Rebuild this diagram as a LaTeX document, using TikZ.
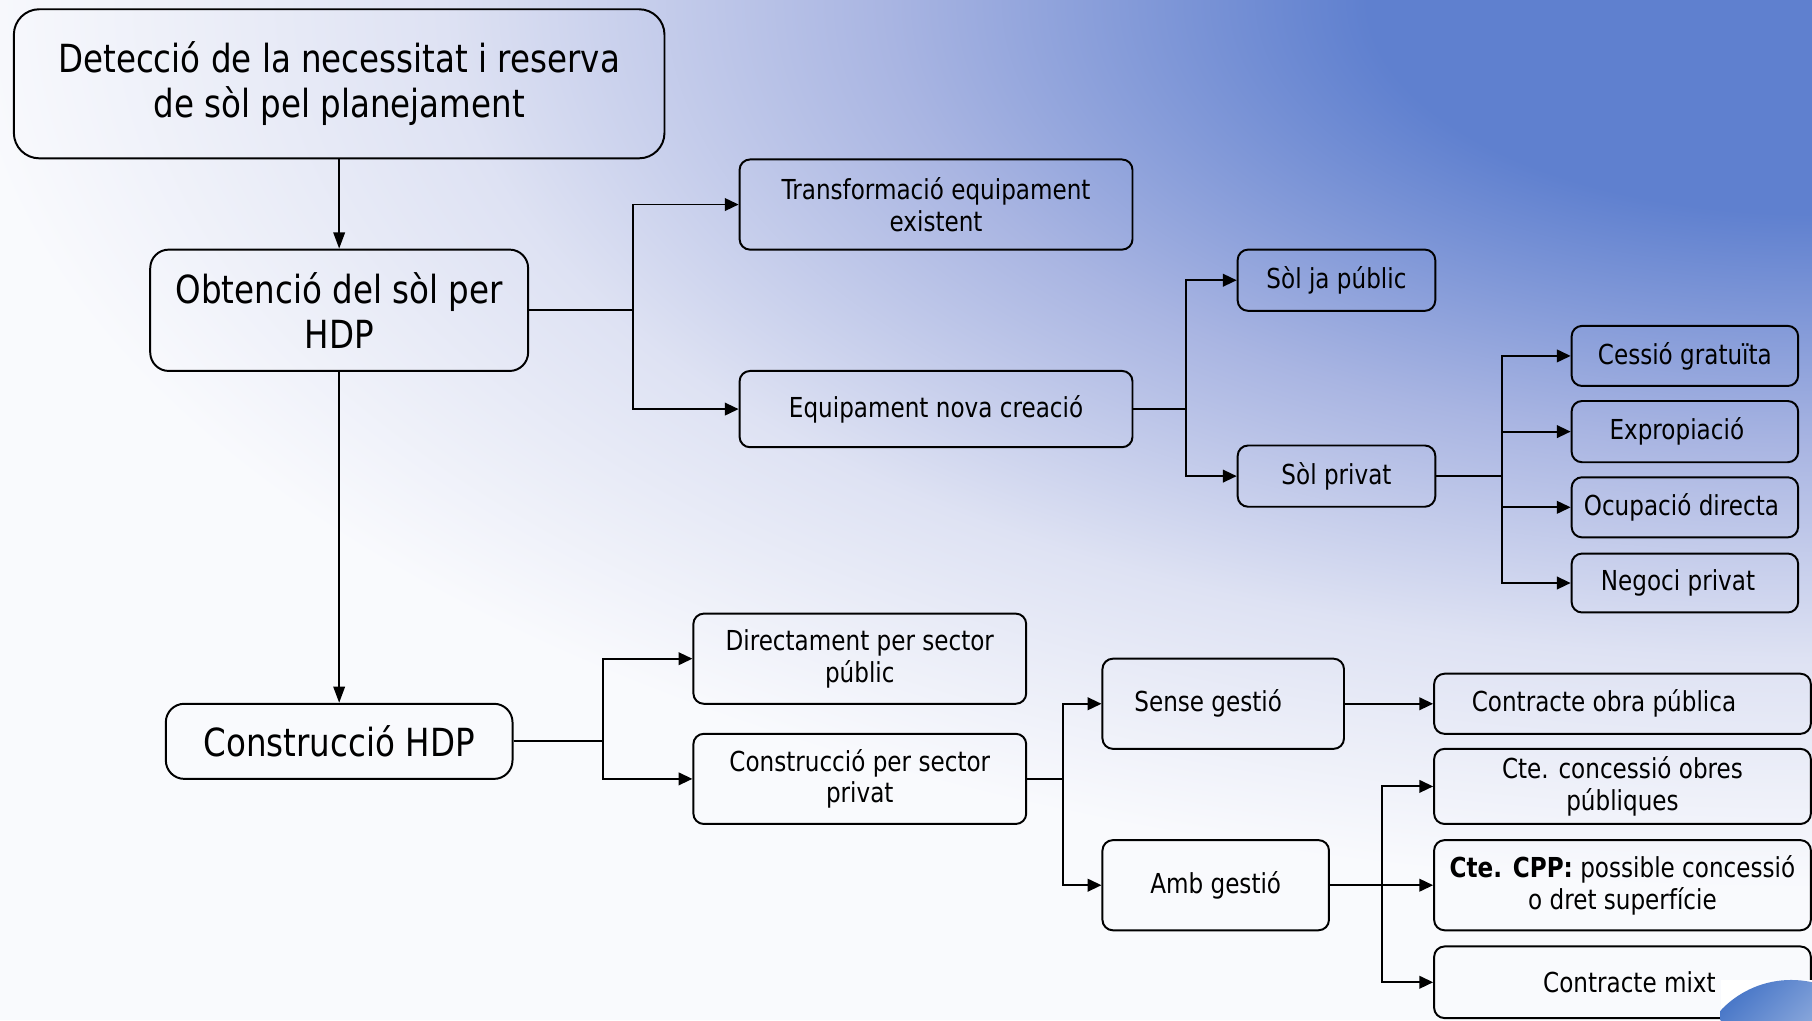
\documentclass[tikz,border=0pt]{standalone}
\usepackage{fontspec}
\setmainfont{DejaVu Sans}[FakeStretch=0.84]
\usetikzlibrary{arrows.meta}
\definecolor{bgblue}{RGB}{95,128,207}
\definecolor{bgmid}{RGB}{169,181,226}
\definecolor{bglight}{RGB}{222,226,243}
\definecolor{bgwhite}{RGB}{249,250,253}
\definecolor{sphereblue}{RGB}{74,120,200}
\definecolor{spherelight}{RGB}{240,243,250}
\pgfdeclareradialshading{bgrad}{\pgfpoint{0bp}{0bp}}{color(0bp)=(bgblue); color(6bp)=(bgblue); color(12.5bp)=(bgmid); color(18.5bp)=(bglight); color(25bp)=(bgwhite); color(50bp)=(bgwhite)}
\newcommand\smallf{\fontsize{23.8}{27.5}\selectfont}
\newcommand\bigf{\fontsize{33.5}{39}\selectfont}
\tikzset{
  box/.style={draw=black, line width=1.7pt, rounded corners=9pt, inner sep=0pt, align=center, font=\smallf, text=black},
  bigbox/.style={box, font=\bigf, rounded corners=16pt},
  conn/.style={line width=1.6pt, -{Triangle[length=12pt,width=11pt]}},
  vconn/.style={line width=1.5pt, -{Triangle[length=14pt,width=10pt]}},
}
\begin{document}
\begin{tikzpicture}[x=1pt,y=-1pt]
\useasboundingbox (0,0) rectangle (1568,883);
% background
\begin{scope}
  \clip (0,0) rectangle (1568,883);
  \fill[bgwhite] (0,0) rectangle (1568,883);
  \shade[shading=bgrad] (1568,0) ellipse [x radius=1600, y radius=770];
\end{scope}

% nodes
\node[bigbox, rounded corners=22pt, minimum width=563pt, minimum height=129pt] (top) at (293.5,72.5) {Detecció de la necessitat i reserva\\de sòl pel planejament};
\node[bigbox, minimum width=327pt, minimum height=105pt] (obt) at (293.5,268.5) {Obtenció del sòl per\\HDP};
\node[bigbox, minimum width=300pt, minimum height=65pt] (constr) at (293.5,641.5) {Construcció HDP};

\node[box, minimum width=340pt, minimum height=78pt] (trans) at (810,177) {Transformació equipament\\existent};
\node[box, minimum width=340pt, minimum height=66pt] (equip) at (810,354) {Equipament nova creació};

\node[box, minimum width=171pt, minimum height=53pt] (soljap) at (1156.5,242.5) {Sòl ja públic};
\node[box, minimum width=171pt, minimum height=53pt] (solpriv) at (1156.5,412) {Sòl privat};

\node[box, minimum width=196pt, minimum height=52pt] (cessio) at (1458,308) {Cessió gratuïta};
\node[box, minimum width=196pt, minimum height=53pt] (expro) at (1458,373.5) {\hspace*{-14pt}Expropiació};
\node[box, minimum width=196pt, minimum height=52pt] (ocup) at (1458,439) {\hspace*{-6pt}Ocupació directa};
\node[box, minimum width=196pt, minimum height=51pt] (negoci) at (1458,504.5) {\hspace*{-12pt}Negoci privat};

\node[box, minimum width=288pt, minimum height=78pt] (direct) at (744,570) {Directament per sector\\públic};
\node[box, minimum width=288pt, minimum height=78pt] (cpriv) at (744,674) {Construcció per sector\\privat};

\node[box, minimum width=209pt, minimum height=78pt] (sense) at (1058.5,609) {\hspace*{-26pt}Sense gestió};
\node[box, minimum width=196pt, minimum height=78pt] (amb) at (1052,766) {Amb gestió};

\node[box, minimum width=326pt, minimum height=52pt] (cobra) at (1404,609) {\hspace*{-32pt}Contracte obra pública};
\node[box, minimum width=326pt, minimum height=65pt] (cconc) at (1404,680.5) {Cte. concessió obres\\públiques};
\node[box, minimum width=326pt, minimum height=78pt] (ccpp) at (1404,766) {\textbf{Cte. CPP:} possible concessió\\o dret superfície};
\node[box, minimum width=326pt, minimum height=62pt] (cmixt) at (1404,850) {\hspace*{12pt}Contracte mixt};

% junction x positions
\coordinate (j1) at (548,0);
\coordinate (j2) at (1026,0);
\coordinate (j3) at (1300,0);
\coordinate (j4) at (522,0);
\coordinate (j5) at (920,0);
\coordinate (j6) at (1196,0);

% connectors
\draw[vconn] (top.south) -- (obt.north);
\draw[vconn] (obt.south) -- (obt.south |- constr.north);

\draw[conn] (obt.east) -- (obt.east -| j1) |- (trans.west);
\draw[conn] (obt.east) -- (obt.east -| j1) |- (equip.west);

\draw[conn] (equip.east) -- (equip.east -| j2) |- (soljap.west);
\draw[conn] (equip.east) -- (equip.east -| j2) |- (solpriv.west);

\draw[conn] (solpriv.east) -- (solpriv.east -| j3) |- (cessio.west);
\draw[conn] (solpriv.east) -- (solpriv.east -| j3) |- (expro.west);
\draw[conn] (solpriv.east) -- (solpriv.east -| j3) |- (ocup.west);
\draw[conn] (solpriv.east) -- (solpriv.east -| j3) |- (negoci.west);

\draw[conn] (constr.east) -- (constr.east -| j4) |- (direct.west);
\draw[conn] (constr.east) -- (constr.east -| j4) |- (cpriv.west);

\draw[conn] (cpriv.east) -- (cpriv.east -| j5) |- (sense.west);
\draw[conn] (cpriv.east) -- (cpriv.east -| j5) |- (amb.west);

\draw[conn] (sense.east) -- (cobra.west);

\draw[conn] (amb.east) -- (amb.east -| j6) |- (cconc.west);
\draw[conn] (amb.east) -- (amb.east -| j6) |- (ccpp.west);
\draw[conn] (amb.east) -- (amb.east -| j6) |- (cmixt.west);

% corner sphere
\fill[white] (1489,848) rectangle (1568,883);
\begin{scope}
  \clip (1489,848) rectangle (1568,883);
  \shade[bottom color=spherelight, top color=sphereblue, shading angle=45] (1550,932) circle [radius=84];
\end{scope}
\end{tikzpicture}
\end{document}
